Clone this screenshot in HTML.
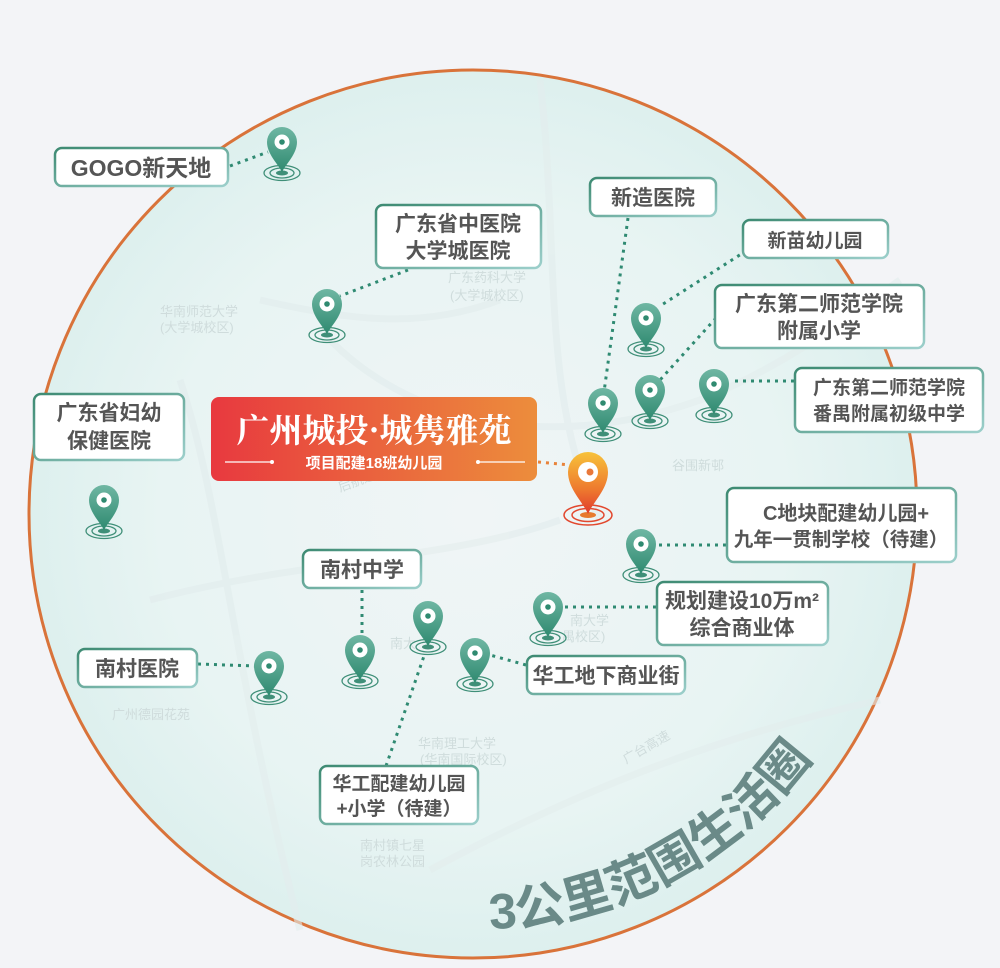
<!DOCTYPE html>
<html><head><meta charset="utf-8"><style>
html,body{margin:0;padding:0;background:#f3f4f7;}
svg{display:block}
.lbl{font-family:"Liberation Sans","Noto Sans CJK SC",sans-serif;font-weight:bold;font-size:21px;fill:#555;}
.map{font-family:"Liberation Sans","Noto Sans CJK SC",sans-serif;font-size:13px;fill:#cfdcdc;}
</style></head><body>
<svg width="1000" height="968" viewBox="0 0 1000 968" xmlns="http://www.w3.org/2000/svg">
<defs>
<radialGradient id="bg" cx="0.5" cy="0.5" r="0.5">
<stop offset="0" stop-color="#f0f5f6"/><stop offset="0.7" stop-color="#e8f4f3"/><stop offset="1" stop-color="#ddf0ee"/>
</radialGradient>
<linearGradient id="pg" x1="0" y1="0" x2="0" y2="1">
<stop offset="0" stop-color="#6fb7a3"/><stop offset="1" stop-color="#2f8a70"/>
</linearGradient>
<linearGradient id="og" x1="0" y1="0" x2="0" y2="1">
<stop offset="0" stop-color="#f7c23a"/><stop offset="0.6" stop-color="#ee7a2e"/><stop offset="1" stop-color="#e03a2e"/>
</linearGradient>
<linearGradient id="tg" x1="0" y1="0" x2="1" y2="0">
<stop offset="0" stop-color="#e8393f"/><stop offset="1" stop-color="#ec8d3c"/>
</linearGradient>
<linearGradient id="bd" x1="0" y1="0" x2="1" y2="1">
<stop offset="0" stop-color="#3d8a72"/><stop offset="1" stop-color="#9ccfcb"/>
</linearGradient>
<g id="pin">
<ellipse cx="0" cy="1" rx="18" ry="7.5" fill="none" stroke="#3f8f78" stroke-width="1.3"/>
<ellipse cx="0" cy="1" rx="12" ry="5" fill="none" stroke="#3f8f78" stroke-width="1.3"/>
<ellipse cx="0" cy="1" rx="6" ry="2.5" fill="#3f8f78"/>
<path d="M0,0 C-4,-8 -15,-18 -15,-30 A15 15 0 1 1 15,-30 C15,-18 4,-8 0,0Z" fill="url(#pg)"/>
<circle cx="0" cy="-30" r="7.5" fill="#fff"/>
<circle cx="0" cy="-30" r="2.8" fill="#2f8a70"/>
</g>
<path id="arc" d="M490,929 A416 416 0 0 0 865.8 658"/>
</defs>
<circle cx="473" cy="514" r="444" fill="url(#bg)" stroke="#d9733a" stroke-width="3"/>
<g stroke="#e2eced" stroke-width="7" fill="none" opacity="0.6">
<path d="M540,80 C560,250 540,400 600,520"/>
<path d="M180,380 C220,500 230,650 300,930"/>
<path d="M330,340 C420,430 560,450 700,400 C800,360 870,300 900,280"/>
<path d="M150,600 C300,560 450,560 560,520"/>
<path d="M430,870 C560,800 700,740 880,700"/>
<path d="M260,300 C350,320 420,330 500,300"/>
</g>
<g class="map">
<text x="160" y="316">华南师范大学</text><text x="160" y="332">(大学城校区)</text>
<text x="448" y="282">广东药科大学</text><text x="450" y="300">(大学城校区)</text>
<text x="672" y="470">谷围新邨</text>
<text x="418" y="748">华南理工大学</text><text x="420" y="764">(华南国际校区)</text>
<text x="112" y="719">广州德园花苑</text>
<text x="360" y="850">南村镇七星</text><text x="360" y="866">岗农林公园</text>
<text x="570" y="625">南大学</text><text x="562" y="641">禺校区)</text>
<text x="340" y="492" transform="rotate(-20 340 492)">后航道</text>
<text x="626" y="764" transform="rotate(-30 626 764)">广台高速</text>
<text x="390" y="648">南大</text>
</g>
<g stroke="#2f8a72" stroke-width="3" stroke-dasharray="3 5" fill="none">
<path d="M230,166 L268,152"/>
<path d="M408,270 L340,296"/>
<path d="M628,218 L604,392"/>
<path d="M760,242 L660,306"/>
<path d="M716,318 L660,380"/>
<path d="M794,381 L730,381"/>
<path d="M726,545 L656,545"/>
<path d="M656,607 L563,607"/>
<path d="M526,665 L490,655"/>
<path d="M362,590 L362,636"/>
<path d="M386,766 L424,656"/>
<path d="M198,664 L255,666"/>
<path d="M538,462 L570,465" stroke="#e8833a"/>
</g>
<use href="#pin" x="282" y="172"/>
<use href="#pin" x="327" y="334"/>
<use href="#pin" x="104" y="530"/>
<use href="#pin" x="603" y="433"/>
<use href="#pin" x="646" y="348"/>
<use href="#pin" x="650" y="420"/>
<use href="#pin" x="714" y="414"/>
<use href="#pin" x="641" y="574"/>
<use href="#pin" x="548" y="637"/>
<use href="#pin" x="360" y="680"/>
<use href="#pin" x="428" y="646"/>
<use href="#pin" x="475" y="683"/>
<use href="#pin" x="269" y="696"/>
<g transform="translate(588,514)">
<ellipse cx="0" cy="1" rx="24" ry="10" fill="none" stroke="#e2482e" stroke-width="1.5"/>
<ellipse cx="0" cy="1" rx="16" ry="6.5" fill="none" stroke="#e2482e" stroke-width="1.5"/>
<ellipse cx="0" cy="1" rx="8" ry="3" fill="#e77a2e"/>
<path d="M0,0 C-5,-12 -20,-25 -20,-42 A20 20 0 1 1 20,-42 C20,-25 5,-12 0,0Z" fill="url(#og)"/>
<circle cx="0" cy="-42" r="10" fill="#fff"/>
<circle cx="2" cy="-42" r="3.5" fill="#e9783a"/>
</g>
<rect x="211" y="397" width="326" height="84" rx="8" fill="url(#tg)"/>
<text x="374" y="442" text-anchor="middle" font-family="'Noto Serif CJK SC',serif" font-weight="bold" font-size="33" fill="#fff">广州城投·城隽雅苑</text>
<text x="374" y="468" text-anchor="middle" font-family="'Liberation Sans','Noto Sans CJK SC',sans-serif" font-weight="bold" font-size="15" fill="#fff">项目配建18班幼儿园</text>
<g stroke="#fff" stroke-width="1.2"><line x1="225" y1="462" x2="272" y2="462"/><line x1="478" y1="462" x2="525" y2="462"/></g>
<circle cx="272" cy="462" r="2" fill="#fff"/><circle cx="478" cy="462" r="2" fill="#fff"/>
<g fill="#fff" stroke="url(#bd)" stroke-width="2.5">
<rect x="55" y="148" width="173" height="38" rx="7"/>
<rect x="376" y="205" width="165" height="63" rx="7"/>
<rect x="590" y="178" width="126" height="38" rx="7"/>
<rect x="743" y="220" width="145" height="38" rx="7"/>
<rect x="715" y="285" width="209" height="63" rx="7"/>
<rect x="795" y="368" width="188" height="64" rx="7"/>
<rect x="34" y="394" width="150" height="66" rx="7"/>
<rect x="727" y="488" width="229" height="74" rx="7"/>
<rect x="657" y="582" width="171" height="63" rx="7"/>
<rect x="303" y="550" width="118" height="38" rx="7"/>
<rect x="78" y="649" width="119" height="38" rx="7"/>
<rect x="527" y="656" width="158" height="38" rx="7"/>
<rect x="320" y="766" width="158" height="58" rx="7"/>
</g>
<g class="lbl" text-anchor="middle">
<text x="141" y="176" font-size="23">GOGO新天地</text>
<text x="458" y="231">广东省中医院</text><text x="458" y="258">大学城医院</text>
<text x="653" y="205">新造医院</text>
<text x="815" y="247" font-size="19">新苗幼儿园</text>
<text x="819" y="311">广东第二师范学院</text><text x="819" y="338">附属小学</text>
<text x="889" y="394" font-size="19">广东第二师范学院</text><text x="889" y="420" font-size="19">番禺附属初级中学</text>
<text x="109" y="420">广东省妇幼</text><text x="109" y="448">保健医院</text>
<text x="846" y="520" font-size="20">C地块配建幼儿园+</text><text x="841" y="546" font-size="19.5">九年一贯制学校（待建）</text>
<text x="742" y="608">规划建设10万m²</text><text x="742" y="635">综合商业体</text>
<text x="362" y="577">南村中学</text>
<text x="137" y="676">南村医院</text>
<text x="606" y="683">华工地下商业街</text>
<text x="399" y="790" font-size="19">华工配建幼儿园</text><text x="399" y="815" font-size="19">+小学（待建）</text>
</g>
<text font-family="'Liberation Sans','Noto Sans CJK SC',sans-serif" font-weight="bold" font-size="50" fill="#6a8a88"><textPath href="#arc">3公里范围生活圈</textPath></text>
</svg>
</body></html>
